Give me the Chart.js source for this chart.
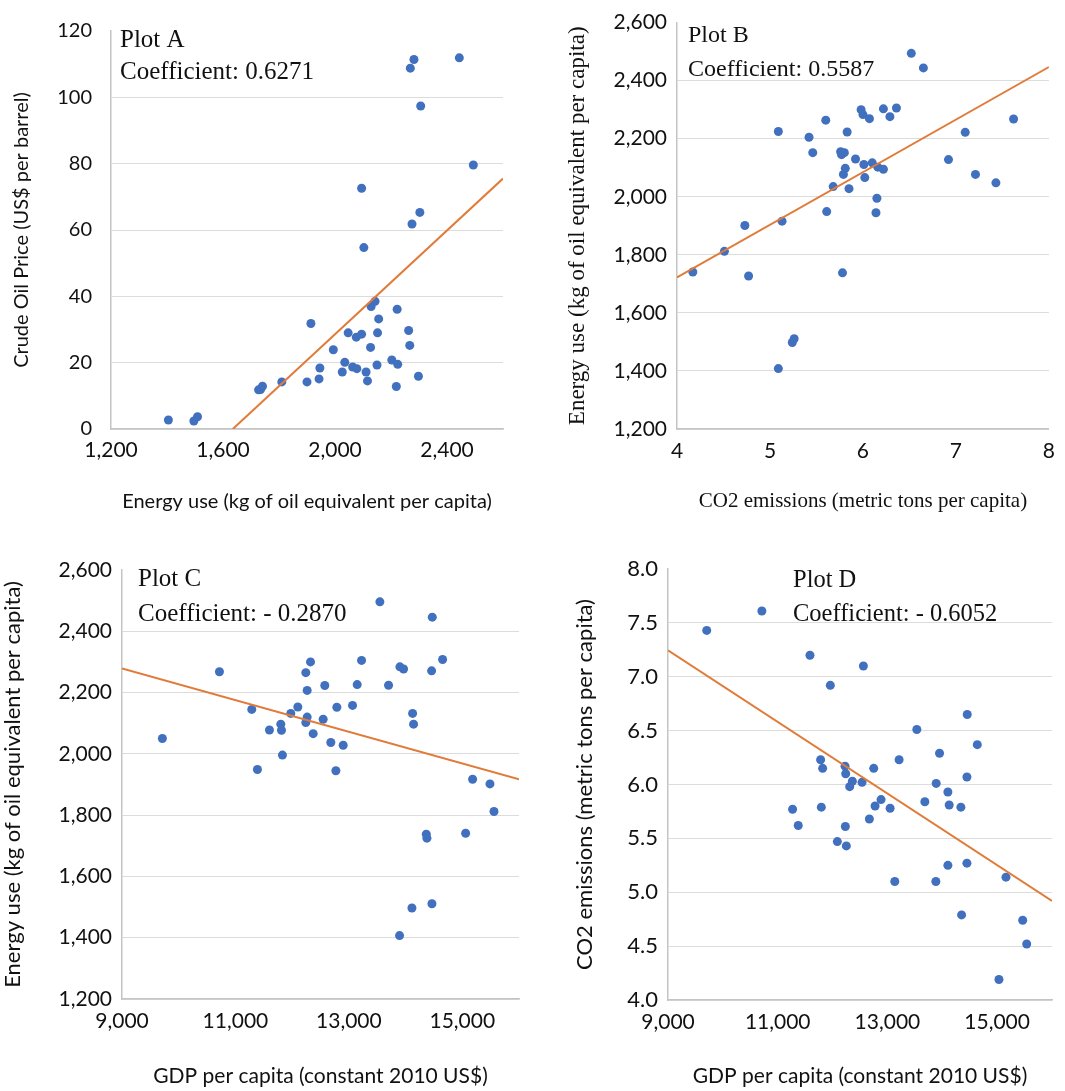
<!DOCTYPE html>
<html>
<head>
<meta charset="utf-8">
<script src="https://cdn.jsdelivr.net/npm/chart.js@4.4.0/dist/chart.umd.min.js"></script>
<style>
  html, body { margin: 0; padding: 0; background: #fff; }
  body { width: 1065px; height: 1091px; position: relative; overflow: hidden; }
  .box { position: absolute; }
</style>
</head>
<body>
<div class="box" style="left:0;top:0;width:530px;height:530px"><canvas id="chartA"></canvas></div>
<div class="box" style="left:530px;top:0;width:535px;height:530px"><canvas id="chartB"></canvas></div>
<div class="box" style="left:0;top:530px;width:530px;height:561px"><canvas id="chartC"></canvas></div>
<div class="box" style="left:530px;top:530px;width:535px;height:561px"><canvas id="chartD"></canvas></div>
<script>
// Plot A: energy use vs crude oil price
const energyA = [1405, 1496, 1509, 1727, 1734, 1741, 1810, 1914, 1900, 1943, 1946, 1994, 2026, 2035, 2047, 2063, 2078, 2076, 2095, 2095, 2103, 2111,
                 2116, 2127, 2129, 2143, 2150, 2152, 2156, 2203, 2222, 2219, 2224, 2263, 2267, 2269, 2282, 2275, 2303, 2306, 2298, 2444, 2494];
const oilA = [2.7, 2.4, 3.7, 11.8, 11.9, 12.9, 14.2, 31.8, 14.2, 15.1, 18.4, 23.9, 17.2, 20.1, 29.0, 18.7, 18.2, 27.7, 28.6, 72.6, 54.7, 17.2,
              14.5, 24.6, 36.9, 38.5, 19.3, 29.0, 33.2, 20.8, 36.1, 12.8, 19.5, 29.7, 25.2, 108.8, 111.4, 61.8, 65.3, 97.4, 15.9, 111.9, 79.6];
const trendAx = [1635, 2600];
const trendAy = [0, 75.5];

// Plot B: CO2 emissions vs energy use
const co2B = [4.17, 4.51, 4.73, 4.77, 5.09, 5.13, 5.09, 5.24, 5.26, 5.42, 5.46, 5.60, 5.61, 5.68, 5.76, 5.77, 5.80, 5.79, 5.81, 5.78, 5.83, 5.85,
              5.92, 5.98, 6.00, 6.01, 6.02, 6.07, 6.10, 6.16, 6.22, 6.15, 6.14, 6.22, 6.29, 6.36, 6.52, 6.65, 6.92, 7.10, 7.21, 7.43, 7.62];
const energyB = [1741, 1812, 1901, 1727, 2225, 1916, 1408, 1498, 1511, 2205, 2152, 2264, 1949, 2035, 2155, 2145, 2152, 2077, 2098, 1738, 2223, 2028,
                 2130, 2300, 2283, 2111, 2066, 2269, 2117, 2102, 2095, 1995, 1945, 2303, 2276, 2306, 2494, 2444, 2128, 2222, 2077, 2048, 2268];
const trendBx = [4, 8];
const trendBy = [1722, 2447];

// Plot C: GDP vs energy use
const gdpC = [9712, 10718, 11288, 11388, 11600, 11800, 11812, 11829, 11976, 12100, 12241, 12265, 12265, 12241, 12324, 12371, 12547, 12576, 12682, 12771, 12788, 12900,
              13065, 13147, 13224, 13547, 13700, 13894, 13900, 13965, 14112, 14124, 14141, 14365, 14376, 14459, 14471, 14465, 14653, 15059, 15182, 15488, 15559];
const energyC = [2050, 2268, 2145, 1949, 2078, 2097, 2077, 1996, 2132, 2153, 2265, 2207, 2120, 2102, 2300, 2066, 2113, 2223, 2037, 1945, 2152, 2028,
                 2158, 2226, 2305, 2496, 2224, 1407, 2284, 2277, 1497, 2132, 2097, 1738, 1725, 2271, 2446, 1511, 2308, 1741, 1917, 1902, 1812];
const trendCx = [9000, 16000];
const trendCy = [2279, 1917];

// Plot D: GDP vs CO2 emissions
const gdpD = [9706, 10711, 11271, 11374, 11588, 11782, 11819, 11795, 11959, 12087, 12227, 12239, 12233, 12251, 12312, 12361, 12537, 12562, 12671, 12750, 12775, 12884,
              13049, 13134, 13213, 13536, 13682, 13883, 13889, 13950, 14102, 14102, 14126, 14339, 14352, 14449, 14455, 14449, 14638, 15033, 15161, 15466, 15539];
const co2D = [7.43, 7.61, 5.77, 5.62, 7.20, 6.23, 6.15, 5.79, 6.92, 5.47, 6.17, 6.10, 5.61, 5.43, 5.98, 6.03, 6.02, 7.10, 5.68, 6.15, 5.80, 5.86,
              5.78, 5.10, 6.23, 6.51, 5.84, 5.10, 6.01, 6.29, 5.25, 5.93, 5.81, 5.79, 4.79, 6.07, 6.65, 5.27, 6.37, 4.19, 5.14, 4.74, 4.52];
const trendDx = [9000, 16000];
const trendDy = [7.245, 4.92];

const gdpTicks = [9000, 11000, 13000, 15000];
const energyTicksA = [1200, 1600, 2000, 2400];

const comma = (v) => v.toLocaleString('en-US');

// Draw one Excel-like scatter with a linear trend line
function makeScatter(id, xs, ys, tx, ty, o) {
  const pts = xs.map((x, i) => ({x: x, y: ys[i]}));
  const trend = tx.map((x, i) => ({x: x, y: ty[i]}));

  const notes = {
    id: 'notes',
    afterDraw(chart) {
      const ctx = chart.ctx;
      ctx.save();
      ctx.fillStyle = '#111';
      ctx.font = o.noteSize + 'px "Liberation Serif", "Times New Roman", serif';
      ctx.textBaseline = 'alphabetic';
      ctx.textAlign = 'left';
      ctx.fillText(o.title, o.noteX, o.noteY1);
      ctx.fillText(o.coef, o.noteX, o.noteY2);
      ctx.restore();
    }
  };

  return new Chart(document.getElementById(id), {
    type: 'scatter',
    data: {
      datasets: [{
        data: trend,
        showLine: true,
        borderColor: '#E07B39',
        borderWidth: 2,
        pointRadius: 0,
        order: 0
      }, {
        data: pts,
        backgroundColor: '#4170BF',
        borderColor: '#4170BF',
        pointRadius: 4.5,
        pointBorderWidth: 0,
        order: 1
      }]
    },
    options: {
      responsive: true,
      maintainAspectRatio: false,
      animation: false,
      layout: { padding: { top: o.padTop, right: o.padRight, bottom: 0, left: 0 } },
      plugins: { legend: { display: false }, tooltip: { enabled: false } },
      scales: {
        x: {
          type: 'linear',
          min: o.xMin,
          max: o.xMax,
          afterBuildTicks: (s) => { s.ticks = o.xTicks.map(v => ({value: v})); },
          afterFit: (s) => { s.height = o.xHeight; },
          grid: { display: false, drawTicks: false },
          border: { display: true, color: '#C4C4C4', width: 1.5 },
          ticks: {
            autoSkip: false, maxRotation: 0, padding: o.xTickPad, color: '#111',
            font: { family: 'Lato', size: o.xTickSize },
            callback: o.xFmt
          },
          title: {
            display: true, text: o.xTitle, color: '#111',
            font: { family: o.xTitleFont, size: o.xTitleSize },
            padding: { top: 0, bottom: o.xTitlePad }
          }
        },
        y: {
          min: o.yMin,
          max: o.yMax,
          afterFit: (s) => { s.width = o.yWidth; },
          grid: {
            drawTicks: false,
            color: (c) => (c.tick && c.tick.value === o.yMax) ? 'rgba(0,0,0,0)' : '#DCDCDC',
            lineWidth: 1
          },
          border: { display: true, color: '#C4C4C4', width: 1.5 },
          ticks: {
            stepSize: o.yStep, padding: o.yTickPad, color: '#111',
            font: { family: 'Lato', size: o.yTickSize },
            callback: o.yFmt
          },
          title: {
            display: true, text: o.yTitle, color: '#111',
            font: { family: o.yTitleFont, size: o.yTitleSize },
            padding: { top: o.yTitlePad, bottom: 0 }
          }
        }
      }
    },
    plugins: [notes]
  });
}

makeScatter('chartA', energyA, oilA, trendAx, trendAy, {
  xMin: 1200, xMax: 2600, xTicks: energyTicksA, xFmt: comma,
  yMin: 0, yMax: 120, yStep: 20, yFmt: (v) => v,
  padTop: 24, padRight: 27, yWidth: 111, xHeight: 101,
  xTickPad: 9, xTickSize: 21, yTickPad: 19, yTickSize: 20,
  xTitle: 'Energy use (kg of oil equivalent per capita)', xTitleFont: 'Lato', xTitleSize: 20, xTitlePad: 16,
  yTitle: 'Crude Oil Price (US$ per barrel)', yTitleFont: 'Lato', yTitleSize: 20, yTitlePad: 10,
  title: 'Plot A', coef: 'Coefficient: 0.6271', noteSize: 25, noteX: 120, noteY1: 47, noteY2: 79
});

makeScatter('chartB', co2B, energyB, trendBx, trendBy, {
  xMin: 4, xMax: 8, xTicks: [4, 5, 6, 7, 8], xFmt: (v) => v,
  yMin: 1200, yMax: 2600, yStep: 200, yFmt: comma,
  padTop: 18, padRight: 8, yWidth: 147, xHeight: 101,
  xTickPad: 10, xTickSize: 21, yTickPad: 10, yTickSize: 21,
  xTitle: 'CO2 emissions (metric tons per capita)', xTitleFont: '"Liberation Serif"', xTitleSize: 21, xTitlePad: 16,
  yTitle: 'Energy use (kg of oil equivalent per capita)', yTitleFont: '"Liberation Serif"', yTitleSize: 23, yTitlePad: 34,
  title: 'Plot B', coef: 'Coefficient: 0.5587', noteSize: 24, noteX: 158, noteY1: 42, noteY2: 76
});

makeScatter('chartC', gdpC, energyC, trendCx, trendCy, {
  xMin: 9000, xMax: 16000, xTicks: gdpTicks, xFmt: comma,
  yMin: 1200, yMax: 2600, yStep: 200, yFmt: comma,
  padTop: 40, padRight: 11, yWidth: 122, xHeight: 92,
  xTickPad: 10, xTickSize: 21, yTickPad: 10, yTickSize: 21,
  xTitle: 'GDP per capita (constant 2010 US$)', xTitleFont: 'Lato', xTitleSize: 21, xTitlePad: 2,
  yTitle: 'Energy use (kg of oil equivalent per capita)', yTitleFont: 'Lato', yTitleSize: 22, yTitlePad: 0,
  title: 'Plot C', coef: 'Coefficient: - 0.2870', noteSize: 25, noteX: 138, noteY1: 56, noteY2: 91
});

makeScatter('chartD', gdpD, co2D, trendDx, trendDy, {
  xMin: 9000, xMax: 16000, xTicks: gdpTicks, xFmt: comma,
  yMin: 4, yMax: 8, yStep: 0.5, yFmt: (v) => v.toFixed(1),
  padTop: 39, padRight: 13, yWidth: 138, xHeight: 91,
  xTickPad: 10, xTickSize: 21, yTickPad: 10, yTickSize: 22,
  xTitle: 'GDP per capita (constant 2010 US$)', xTitleFont: 'Lato', xTitleSize: 21, xTitlePad: 2,
  yTitle: 'CO2 emissions (metric tons per capita)', yTitleFont: 'Lato', yTitleSize: 22, yTitlePad: 42,
  title: 'Plot D', coef: 'Coefficient: - 0.6052', noteSize: 24.5, noteX: 263, noteY1: 57, noteY2: 91
});
</script>
</body>
</html>
